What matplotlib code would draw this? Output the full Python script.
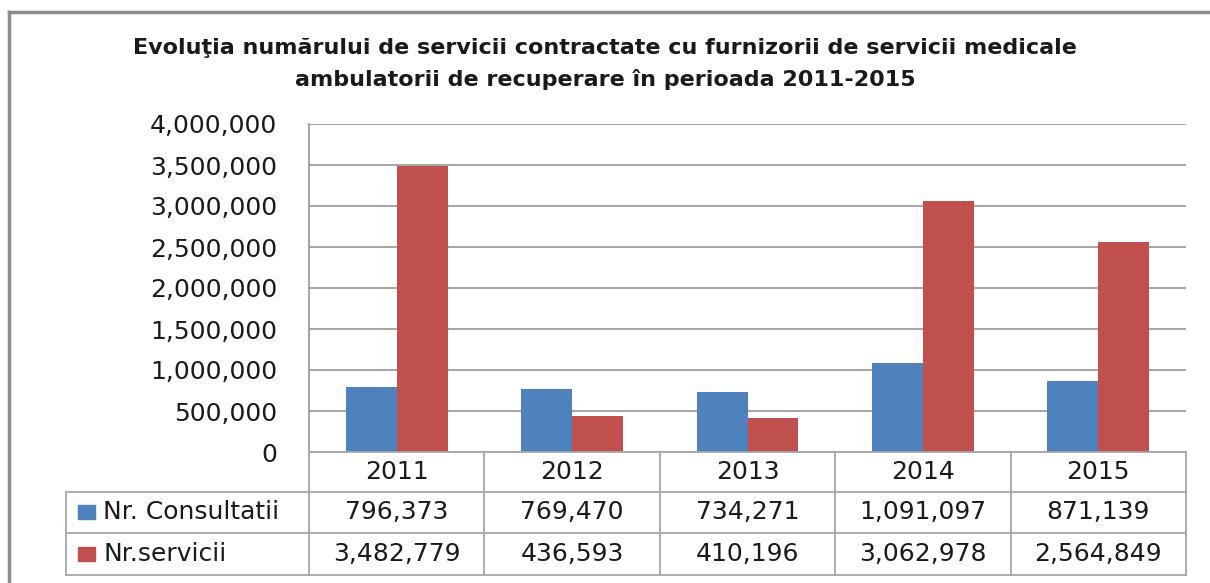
import numpy as np
import matplotlib.pyplot as plt
from matplotlib.lines import Line2D
from matplotlib.patches import Rectangle
import matplotlib.ticker as mtick

years = ['2011', '2012', '2013', '2014', '2015']
consultatii = [796373, 769470, 734271, 1091097, 871139]
servicii = [3482779, 436593, 410196, 3062978, 2564849]
series_names = ['Nr. Consultatii', 'Nr.servicii']
colors = ['#4F81BD', '#C0504D']
title = ('Evoluţia numărului de servicii contractate cu furnizorii de servicii medicale\n'
         'ambulatorii de recuperare în perioada 2011-2015')

W, H = 1210, 583
fig = plt.figure(figsize=(W / 100, H / 100), dpi=100)

def fx(px):
    return px / W

def fy(py):
    return 1 - py / H

# outer chart frame (left and top edges visible)
fig.add_artist(Line2D([fx(9), fx(9)], [fy(12), 0], color='#8c8c8c', lw=2.5))
fig.add_artist(Line2D([fx(9), 1], [fy(12), fy(12)], color='#8c8c8c', lw=2.5))

fig.text(0.5, fy(64), title, ha='center', va='center', fontsize=16,
         fontweight='bold', family='DejaVu Sans', linespacing=1.6,
         color='#1a1a1a')

# plot area
pl, pr, pt, pb = 309, 1186, 124, 452
ax = fig.add_axes([fx(pl), fy(pb), fx(pr) - fx(pl), fy(pt) - fy(pb)])
x = np.arange(len(years))
bw = 0.29
ax.bar(x - bw / 2, consultatii, bw, color=colors[0], zorder=3)
ax.bar(x + bw / 2, servicii, bw, color=colors[1], zorder=3)
ax.set_xlim(-0.5, len(years) - 0.5)
ax.set_ylim(0, 4000000)
ax.set_yticks(np.arange(0, 4000001, 500000))
ax.yaxis.set_major_formatter(mtick.FuncFormatter(lambda v, p: f'{int(v):,}'))
ax.grid(axis='y', color='#969696', lw=1.2, zorder=0)
ax.set_xticks([])
for s in ['top', 'right', 'bottom']:
    ax.spines[s].set_visible(False)
ax.spines['left'].set_color('#969696')
ax.spines['left'].set_linewidth(1.2)
ax.tick_params(axis='y', length=0, pad=23, labelsize=18, labelcolor='#1a1a1a')

# data table below the plot area
tl, tr, tt, tb = 66, 1186, 452, 575
tax = fig.add_axes([fx(tl), fy(tb), fx(tr) - fx(tl), fy(tt) - fy(tb)])
tax.set_xlim(tl, tr)
tax.set_ylim(tb, tt)
tax.axis('off')
row_edges = [452, 492, 533, 575]
col_edges = np.linspace(pl, pr, len(years) + 1)
lc = '#a6a6a6'
for i, yv in enumerate(row_edges):
    x0 = pl if i == 0 else tl
    tax.plot([x0, tr], [yv, yv], color=lc, lw=1.3, clip_on=False)
for j, xv in enumerate(col_edges):
    tax.plot([xv, xv], [tt, tb], color=lc, lw=1.3, clip_on=False)
tax.plot([tl, tl], [row_edges[1], tb], color=lc, lw=1.3, clip_on=False)

cell_font = dict(fontsize=18, color='#1a1a1a', ha='center', va='center')
centers = (col_edges[:-1] + col_edges[1:]) / 2
for j, yr in enumerate(years):
    tax.text(centers[j], (row_edges[0] + row_edges[1]) / 2, yr, **cell_font)
for r, (name, vals, c) in enumerate(zip(series_names, [consultatii, servicii], colors)):
    yc = (row_edges[r + 1] + row_edges[r + 2]) / 2
    tax.add_patch(Rectangle((78, yc - 7), 17, 14, color=c))
    tax.text(103, yc, name, fontsize=18, color='#1a1a1a', ha='left', va='center')
    for j, v in enumerate(vals):
        tax.text(centers[j], yc, f'{v:,}', **cell_font)

fig.savefig('out.png', dpi=100)
